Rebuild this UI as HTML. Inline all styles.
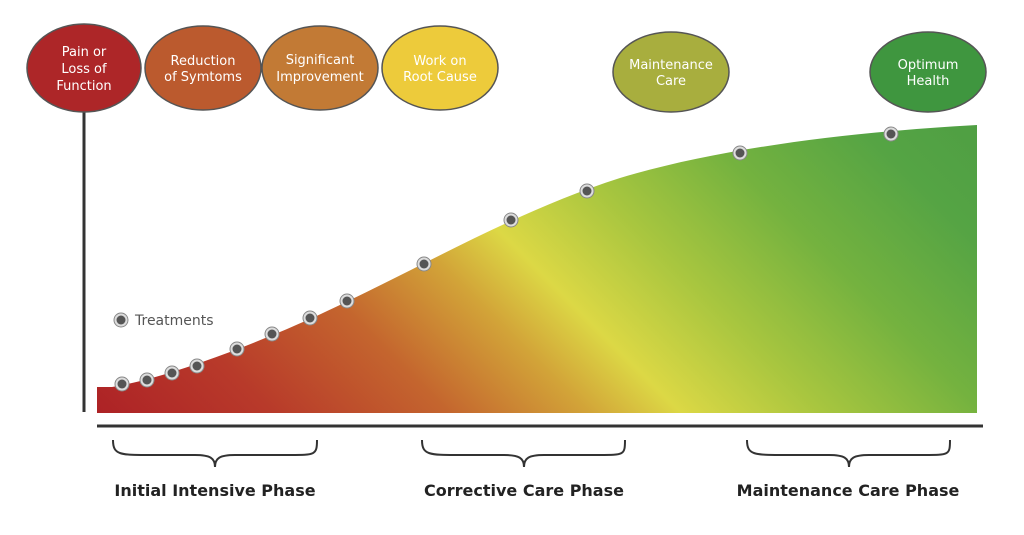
<!DOCTYPE html>
<html><head><meta charset="utf-8"><style>
html,body{margin:0;padding:0;background:#fff;}
svg{display:block;}
text{font-family:"DejaVu Sans","Liberation Sans",sans-serif;}
</style></head><body>
<svg width="1024" height="535" viewBox="0 0 1024 535" xmlns="http://www.w3.org/2000/svg">
<defs>
<linearGradient id="g" gradientUnits="userSpaceOnUse" x1="0" y1="316" x2="584" y2="-268">
<stop offset="0" stop-color="#ad2226"/>
<stop offset="0.15" stop-color="#b83a2a"/>
<stop offset="0.3" stop-color="#c4652e"/>
<stop offset="0.42" stop-color="#d2a338"/>
<stop offset="0.5" stop-color="#dcd845"/>
<stop offset="0.62" stop-color="#a9c63f"/>
<stop offset="0.76" stop-color="#74b23f"/>
<stop offset="0.9" stop-color="#55a444"/>
<stop offset="1" stop-color="#4f9f43"/>
</linearGradient>
<g id="dot"><circle r="7" fill="#ddd" stroke="#888" stroke-width="1"/><circle r="4.5" fill="#555"/></g>
</defs>
<line x1="84" y1="108" x2="84" y2="412" stroke="#333" stroke-width="3"/>
<path d="M97,387 L112,387 C170,378 280,335 350,300 C430,262 520,210 620,178 C720,148 850,132 977,125 L977,413 L97,413 Z" fill="url(#g)"/>
<line x1="97" y1="426" x2="983" y2="426" stroke="#333" stroke-width="3"/>
<g fill="none" stroke="#333" stroke-width="2">
<path d="M113,440 C113,455 120,455 150,455 L195,455 C210,455 215,458 215,467 C215,458 220,455 235,455 L290,455 C315,455 317,455 317,440"/>
<path d="M422,440 C422,455 429,455 459,455 L504,455 C519,455 524,458 524,467 C524,458 529,455 544,455 L599,455 C624,455 625,455 625,440"/>
<path d="M747,440 C747,455 754,455 784,455 L829,455 C844,455 849,458 849,467 C849,458 854,455 869,455 L924,455 C949,455 950,455 950,440"/>
</g>
<g font-weight="bold" font-size="16" fill="#222" text-anchor="middle">
<text x="215" y="496">Initial Intensive Phase</text>
<text x="524" y="496">Corrective Care Phase</text>
<text x="848" y="496">Maintenance Care Phase</text>
</g>
<use href="#dot" x="122" y="384"/><use href="#dot" x="147" y="380"/><use href="#dot" x="172" y="373"/><use href="#dot" x="197" y="366"/>
<use href="#dot" x="237" y="349"/><use href="#dot" x="272" y="334"/><use href="#dot" x="310" y="318"/><use href="#dot" x="347" y="301"/>
<use href="#dot" x="424" y="264"/><use href="#dot" x="511" y="220"/><use href="#dot" x="587" y="191"/><use href="#dot" x="740" y="153"/><use href="#dot" x="891" y="134"/>
<use href="#dot" x="121" y="320"/>
<text x="135" y="325" font-size="14" fill="#555">Treatments</text>
<g stroke="#555" stroke-width="1.5">
<ellipse cx="84" cy="68" rx="57" ry="44" fill="#ad2628"/>
<ellipse cx="203" cy="68" rx="58" ry="42" fill="#bb5a2e"/>
<ellipse cx="320" cy="68" rx="58" ry="42" fill="#c27a35"/>
<ellipse cx="440" cy="68" rx="58" ry="42" fill="#edcb3b"/>
<ellipse cx="671" cy="72" rx="58" ry="40" fill="#a8ae3e"/>
<ellipse cx="928" cy="72" rx="58" ry="40" fill="#3f963f"/>
</g>
<g font-size="13" fill="#fff" text-anchor="middle">
<text x="84" y="56">Pain or</text><text x="84" y="73">Loss of</text><text x="84" y="90">Function</text>
<text x="203" y="65">Reduction</text><text x="203" y="81">of Symtoms</text>
<text x="320" y="64">Significant</text><text x="320" y="81">Improvement</text>
<text x="440" y="65">Work on</text><text x="440" y="81">Root Cause</text>
<text x="671" y="69">Maintenance</text><text x="671" y="85">Care</text>
<text x="928" y="69">Optimum</text><text x="928" y="85">Health</text>
</g>
</svg>
</body></html>
